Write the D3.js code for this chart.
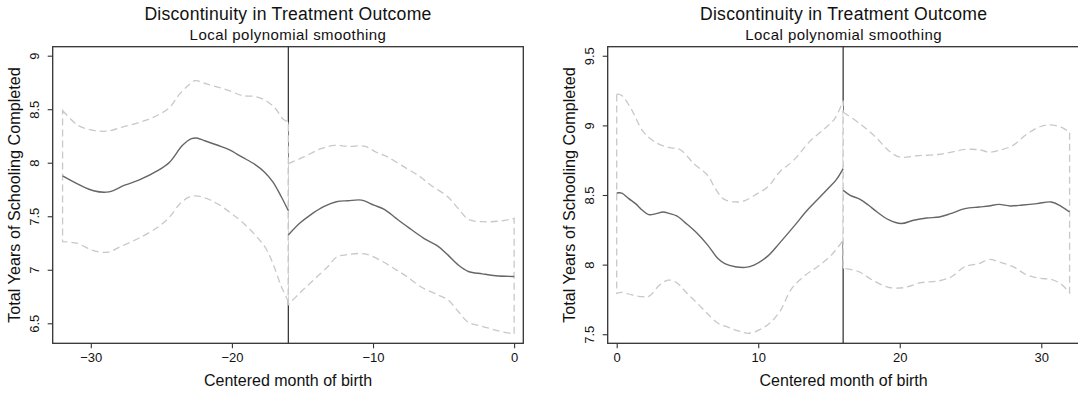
<!DOCTYPE html>
<html>
<head>
<meta charset="utf-8">
<script src="https://cdn.jsdelivr.net/npm/d3@7"></script>
<style>
  html, body { margin: 0; padding: 0; background: #fff; }
  svg { display: block; font-family: "Liberation Sans", Arial, sans-serif; }
</style>
</head>
<body>
<svg id="chart" width="1078" height="394"></svg>
<script>
// ---- Panel A: months before the cohort boundary (centered at 0) ----
const cutoffA = -16;
const ticksXA = [-30, -20, -10, 0];
const ticksYA = [6.5, 7, 7.5, 8, 8.5, 9];

const fitA1 = [[-32,7.877],[-29.8,7.738],[-28.7,7.728],[-27.6,7.79],[-26.6,7.837],[-25.2,7.93],[-24.4,8.007],[-23.5,8.163],[-22.86,8.225],[-22.5,8.231],[-22,8.209],[-21,8.163],[-20.2,8.122],[-19.3,8.054],[-18.35,7.983],[-17.7,7.914],[-17.1,7.821],[-16.5,7.682],[-16,7.551]];
const fitA2 = [[-16,7.325],[-15.2,7.434],[-14.45,7.511],[-13.5,7.589],[-12.6,7.635],[-11.77,7.645],[-10.8,7.651],[-9.94,7.604],[-9.2,7.564],[-8.36,7.48],[-7.5,7.396],[-6.4,7.294],[-5.43,7.223],[-4.7,7.139],[-3.97,7.046],[-3.24,6.984],[-2.26,6.962],[-1.29,6.944],[0,6.937]];
const hiA1 = [[-32,8.488],[-30.9,8.349],[-29.8,8.302],[-28.8,8.296],[-27.6,8.339],[-26.15,8.395],[-25.2,8.448],[-24.4,8.519],[-23.7,8.643],[-23.1,8.721],[-22.6,8.767],[-21.8,8.736],[-20.8,8.699],[-20.2,8.674],[-19.3,8.628],[-18.35,8.618],[-17.6,8.581],[-16.9,8.504],[-16.4,8.411],[-16,8.38]];
const loA1 = [[-32,7.263],[-31,7.248],[-29.8,7.179],[-28.8,7.164],[-27.9,7.216],[-26.6,7.294],[-25.2,7.403],[-24.4,7.496],[-23.7,7.614],[-23,7.682],[-22.4,7.688],[-21.8,7.666],[-21,7.614],[-20.05,7.527],[-19.3,7.449],[-18.35,7.325],[-17.6,7.201],[-17.1,7.061],[-16.5,6.844],[-16,6.705]];
const hiA2 = [[-16,7.992],[-14.9,8.054],[-13.7,8.131],[-12.7,8.163],[-11.77,8.153],[-10.55,8.153],[-9.8,8.1],[-8.97,8.054],[-7.6,7.945],[-6.65,7.868],[-5.9,7.79],[-4.7,7.682],[-3.97,7.573],[-3.24,7.471],[-2.26,7.449],[-1.04,7.455],[0,7.48]];
const loA2 = [[-16,6.674],[-15.2,6.782],[-14.2,6.906],[-13.2,7.03],[-12.6,7.117],[-11.77,7.142],[-10.55,7.148],[-9.33,7.077],[-8.36,6.999],[-7.6,6.937],[-6.65,6.844],[-5.43,6.767],[-4.7,6.72],[-3.97,6.612],[-3.24,6.509],[-2.26,6.472],[-1.04,6.426],[0,6.401]];

// ---- Panel B: months after the cohort boundary ----
const cutoffB = 16;
const ticksXB = [0, 10, 20, 30];
const ticksYB = [7.5, 8, 8.5, 9, 9.5];

const fitB1 = [[0,8.514],[0.36,8.514],[0.85,8.474],[1.33,8.438],[1.82,8.39],[2.26,8.359],[2.79,8.366],[3.27,8.378],[3.76,8.366],[4.24,8.35],[4.97,8.29],[5.7,8.223],[6.43,8.14],[7.15,8.044],[7.64,8.008],[8.37,7.985],[9.1,7.98],[9.7,7.997],[10.67,8.061],[11.52,8.156],[12.49,8.271],[13.46,8.39],[14.19,8.467],[14.92,8.545],[15.52,8.61],[16,8.689]];
const fitB2 = [[16,8.533],[16.5,8.498],[17.2,8.469],[17.8,8.426],[18.4,8.378],[19.2,8.323],[20.1,8.295],[20.98,8.319],[21.9,8.335],[22.8,8.342],[23.6,8.366],[24.6,8.402],[25.6,8.414],[26.3,8.421],[27,8.433],[27.8,8.421],[28.7,8.428],[29.7,8.438],[30.7,8.45],[31.4,8.419],[32,8.378]];
const hiB1 = [[0,9.226],[0.36,9.214],[1.09,9.106],[1.82,8.963],[2.55,8.891],[3.52,8.844],[4.49,8.825],[5.46,8.724],[6.43,8.641],[6.91,8.557],[7.52,8.474],[8.37,8.45],[9.1,8.462],[9.94,8.51],[10.67,8.557],[11.52,8.665],[12.49,8.748],[13.7,8.891],[14.67,8.975],[15.4,9.047],[16,9.178]];
const loB1 = [[0,7.794],[0.36,7.801],[1.09,7.782],[1.82,7.77],[2.3,7.774],[3.03,7.853],[3.64,7.889],[4.24,7.87],[4.97,7.794],[5.7,7.722],[6.43,7.646],[7.15,7.579],[7.88,7.55],[8.6,7.524],[9.34,7.507],[10.07,7.531],[10.8,7.579],[11.52,7.662],[12.37,7.829],[13.34,7.925],[14.19,7.985],[15.16,8.068],[16,8.175]];
const hiB2 = [[16,9.094],[17.2,9.011],[18.3,8.915],[19.2,8.82],[20,8.772],[21.2,8.782],[22.7,8.791],[23.65,8.808],[24.6,8.827],[25.6,8.825],[26.3,8.808],[27,8.82],[28,8.856],[29,8.939],[29.95,8.992],[30.56,9.004],[31.4,8.987],[32,8.951]];
const loB2 = [[16,7.973],[17.1,7.949],[18.07,7.889],[19.2,7.837],[20.25,7.834],[21.5,7.87],[22.7,7.882],[23.65,7.913],[24.6,7.985],[25.6,8.008],[26.3,8.037],[27,8.02],[28,7.985],[29,7.925],[29.95,7.901],[30.7,7.894],[31.4,7.86],[32,7.798]];

const titleText = "Discontinuity in Treatment Outcome";
const subtitleText = "Local polynomial smoothing";
const xTitle = "Centered month of birth";
const yTitle = "Total Years of Schooling Completed";

const panels = [
  { left: 52.7, right: 523.3, xDomain: [-32.7, 0.65], yDomain: [6.313, 9.084],
    xTicks: ticksXA, yTicks: ticksYA, cutoff: cutoffA,
    segments: [ { fit: fitA1, hi: hiA1, lo: loA1 }, { fit: fitA2, hi: hiA2, lo: loA2 } ] },
  { left: 607.7, right: 1079.5, xDomain: [-0.636, 32.7], yDomain: [7.435, 9.565],
    xTicks: ticksXB, yTicks: ticksYB, cutoff: cutoffB,
    segments: [ { fit: fitB1, hi: hiB1, lo: loB1 }, { fit: fitB2, hi: hiB2, lo: loB2 } ] }
];

const plotTop = 46.7, plotBottom = 343.3;
const svg = d3.select("#chart");

panels.forEach(p => {
  const x = d3.scaleLinear().domain(p.xDomain).range([p.left, p.right]);
  const y = d3.scaleLinear().domain(p.yDomain).range([plotBottom, plotTop]);
  const cx = (p.left + p.right) / 2;
  const g = svg.append("g");

  // titles
  g.append("text").attr("x", cx).attr("y", 19.5).attr("text-anchor", "middle")
    .attr("font-size", 17.6).attr("letter-spacing", 0.25).attr("fill", "#111").text(titleText);
  g.append("text").attr("x", cx).attr("y", 40).attr("text-anchor", "middle")
    .attr("font-size", 15).attr("letter-spacing", 0.45).attr("fill", "#111").text(subtitleText);

  // cutoff line (drawn first; the white confidence bands sit over it)
  g.append("line")
    .attr("x1", x(p.cutoff)).attr("x2", x(p.cutoff))
    .attr("y1", plotTop).attr("y2", plotBottom)
    .attr("stroke", "#3a3a3a").attr("stroke-width", 1.3);

  const line = d3.line().x(d => x(d[0])).y(d => y(d[1])).curve(d3.curveCatmullRom.alpha(0.5));

  p.segments.forEach(s => {
    const hiPath = line(s.hi);
    const loPath = line(s.lo.slice().reverse());
    const band = hiPath + "L" + loPath.slice(1) + "Z";
    g.append("path").attr("d", band)
      .attr("fill", "#fff").attr("stroke", "#c8c8c8")
      .attr("stroke-width", 1.3).attr("stroke-dasharray", "7,4");
  });

  p.segments.forEach(s => {
    g.append("path").attr("d", line(s.fit))
      .attr("fill", "none").attr("stroke", "#666").attr("stroke-width", 1.4);
  });

  // plot frame
  g.append("rect").attr("x", p.left).attr("y", plotTop)
    .attr("width", p.right - p.left).attr("height", plotBottom - plotTop)
    .attr("fill", "none").attr("stroke", "#333").attr("stroke-width", 1.3);

  // x axis
  const xa = g.append("g").attr("transform", `translate(0,${plotBottom})`)
    .call(d3.axisBottom(x).tickValues(p.xTicks).tickSize(5).tickSizeOuter(0).tickPadding(4).tickFormat(d3.format("d")));
  xa.select(".domain").remove();
  xa.selectAll("line").attr("stroke", "#333").attr("stroke-width", 1.1);
  xa.selectAll("text").attr("font-size", 13).attr("fill", "#111")
    .attr("font-family", "Liberation Sans, Arial, sans-serif");

  // y axis with vertical tick labels
  const ya = g.append("g").attr("transform", `translate(${p.left},0)`)
    .call(d3.axisLeft(y).tickValues(p.yTicks).tickSize(5).tickSizeOuter(0).tickFormat(d3.format("")));
  ya.select(".domain").remove();
  ya.selectAll("line").attr("stroke", "#333").attr("stroke-width", 1.1);
  ya.selectAll("text")
    .attr("font-size", 13).attr("fill", "#111")
    .attr("font-family", "Liberation Sans, Arial, sans-serif")
    .attr("x", null).attr("dy", null)
    .attr("text-anchor", "middle")
    .attr("transform", "translate(-14,0) rotate(-90)");

  // axis titles
  g.append("text").attr("x", cx).attr("y", 386).attr("text-anchor", "middle")
    .attr("font-size", 16).attr("fill", "#111").text(xTitle);
  g.append("text")
    .attr("transform", `translate(${p.left - 33},${(plotTop + plotBottom) / 2}) rotate(-90)`)
    .attr("text-anchor", "middle").attr("font-size", 16.2).attr("fill", "#111").text(yTitle);
});
</script>
</body>
</html>
